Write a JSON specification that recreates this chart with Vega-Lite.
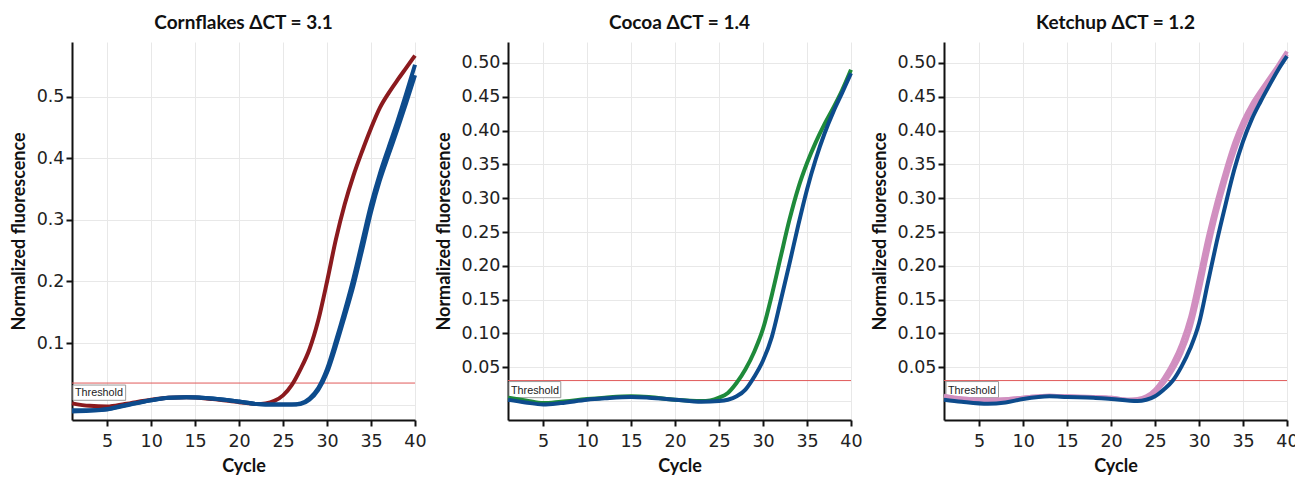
{
  "$schema": "https://vega.github.io/schema/vega-lite/v6.json",
  "background": "white",
  "padding": {"left": 10, "top": 14, "right": 5, "bottom": 5},
  "spacing": 8,
  "config": {
    "view": {"stroke": null},
    "font": "Lato",
    "title": {"font": "Lato", "fontSize": 19, "fontWeight": "bold", "color": "#111", "offset": 9, "anchor": "middle"},
    "axis": {
      "domainColor": "#111", "domainWidth": 2,
      "tickColor": "#111", "tickWidth": 2, "tickSize": 6,
      "gridColor": "#e8e8e8", "gridWidth": 1,
      "labelFont": "DejaVu Sans", "labelFontSize": 17.5, "labelColor": "#222",
      "titleFont": "Lato", "titleFontSize": 18, "titleFontWeight": "bold", "titleColor": "#111"
    }
  },
  "datasets": {
    "curves": [
      {"panel": "Cornflakes", "series": "threshold", "rep": "t", "cycle": 1, "value": 0.035},
      {"panel": "Cornflakes", "series": "threshold", "rep": "t", "cycle": 40, "value": 0.035},
      {"panel": "Cocoa", "series": "threshold", "rep": "t", "cycle": 1, "value": 0.0303},
      {"panel": "Cocoa", "series": "threshold", "rep": "t", "cycle": 40, "value": 0.0303},
      {"panel": "Ketchup", "series": "threshold", "rep": "t", "cycle": 1, "value": 0.0303},
      {"panel": "Ketchup", "series": "threshold", "rep": "t", "cycle": 40, "value": 0.0303},

      {"panel": "Cornflakes", "series": "sample", "rep": "a", "cycle": 1, "value": 0.002},
      {"panel": "Cornflakes", "series": "sample", "rep": "a", "cycle": 3, "value": -0.002},
      {"panel": "Cornflakes", "series": "sample", "rep": "a", "cycle": 5, "value": -0.003},
      {"panel": "Cornflakes", "series": "sample", "rep": "a", "cycle": 7, "value": 0.001},
      {"panel": "Cornflakes", "series": "sample", "rep": "a", "cycle": 10, "value": 0.008},
      {"panel": "Cornflakes", "series": "sample", "rep": "a", "cycle": 12, "value": 0.011},
      {"panel": "Cornflakes", "series": "sample", "rep": "a", "cycle": 14, "value": 0.012},
      {"panel": "Cornflakes", "series": "sample", "rep": "a", "cycle": 17, "value": 0.009},
      {"panel": "Cornflakes", "series": "sample", "rep": "a", "cycle": 20, "value": 0.004},
      {"panel": "Cornflakes", "series": "sample", "rep": "a", "cycle": 22, "value": 0.001},
      {"panel": "Cornflakes", "series": "sample", "rep": "a", "cycle": 23, "value": 0.002},
      {"panel": "Cornflakes", "series": "sample", "rep": "a", "cycle": 24, "value": 0.006},
      {"panel": "Cornflakes", "series": "sample", "rep": "a", "cycle": 25, "value": 0.015},
      {"panel": "Cornflakes", "series": "sample", "rep": "a", "cycle": 26, "value": 0.032},
      {"panel": "Cornflakes", "series": "sample", "rep": "a", "cycle": 27, "value": 0.058},
      {"panel": "Cornflakes", "series": "sample", "rep": "a", "cycle": 28, "value": 0.09},
      {"panel": "Cornflakes", "series": "sample", "rep": "a", "cycle": 29, "value": 0.137},
      {"panel": "Cornflakes", "series": "sample", "rep": "a", "cycle": 30, "value": 0.2},
      {"panel": "Cornflakes", "series": "sample", "rep": "a", "cycle": 31, "value": 0.268},
      {"panel": "Cornflakes", "series": "sample", "rep": "a", "cycle": 32, "value": 0.325},
      {"panel": "Cornflakes", "series": "sample", "rep": "a", "cycle": 33, "value": 0.372},
      {"panel": "Cornflakes", "series": "sample", "rep": "a", "cycle": 34, "value": 0.412},
      {"panel": "Cornflakes", "series": "sample", "rep": "a", "cycle": 35, "value": 0.449},
      {"panel": "Cornflakes", "series": "sample", "rep": "a", "cycle": 36, "value": 0.482},
      {"panel": "Cornflakes", "series": "sample", "rep": "a", "cycle": 37, "value": 0.506},
      {"panel": "Cornflakes", "series": "sample", "rep": "a", "cycle": 38, "value": 0.527},
      {"panel": "Cornflakes", "series": "sample", "rep": "a", "cycle": 39, "value": 0.547},
      {"panel": "Cornflakes", "series": "sample", "rep": "a", "cycle": 40, "value": 0.567},

      {"panel": "Cornflakes", "series": "reference", "rep": "a", "cycle": 1, "value": -0.011},
      {"panel": "Cornflakes", "series": "reference", "rep": "a", "cycle": 3, "value": -0.01},
      {"panel": "Cornflakes", "series": "reference", "rep": "a", "cycle": 5, "value": -0.008},
      {"panel": "Cornflakes", "series": "reference", "rep": "a", "cycle": 7, "value": -0.002},
      {"panel": "Cornflakes", "series": "reference", "rep": "a", "cycle": 10, "value": 0.007},
      {"panel": "Cornflakes", "series": "reference", "rep": "a", "cycle": 12, "value": 0.011},
      {"panel": "Cornflakes", "series": "reference", "rep": "a", "cycle": 14, "value": 0.012},
      {"panel": "Cornflakes", "series": "reference", "rep": "a", "cycle": 17, "value": 0.01},
      {"panel": "Cornflakes", "series": "reference", "rep": "a", "cycle": 20, "value": 0.005},
      {"panel": "Cornflakes", "series": "reference", "rep": "a", "cycle": 22, "value": 0.001},
      {"panel": "Cornflakes", "series": "reference", "rep": "a", "cycle": 24, "value": 0.0},
      {"panel": "Cornflakes", "series": "reference", "rep": "a", "cycle": 26, "value": 0.0},
      {"panel": "Cornflakes", "series": "reference", "rep": "a", "cycle": 27, "value": 0.002},
      {"panel": "Cornflakes", "series": "reference", "rep": "a", "cycle": 28, "value": 0.01},
      {"panel": "Cornflakes", "series": "reference", "rep": "a", "cycle": 29, "value": 0.027},
      {"panel": "Cornflakes", "series": "reference", "rep": "a", "cycle": 30, "value": 0.058},
      {"panel": "Cornflakes", "series": "reference", "rep": "a", "cycle": 31, "value": 0.103},
      {"panel": "Cornflakes", "series": "reference", "rep": "a", "cycle": 32, "value": 0.152},
      {"panel": "Cornflakes", "series": "reference", "rep": "a", "cycle": 33, "value": 0.205},
      {"panel": "Cornflakes", "series": "reference", "rep": "a", "cycle": 34, "value": 0.265},
      {"panel": "Cornflakes", "series": "reference", "rep": "a", "cycle": 35, "value": 0.325},
      {"panel": "Cornflakes", "series": "reference", "rep": "a", "cycle": 36, "value": 0.375},
      {"panel": "Cornflakes", "series": "reference", "rep": "a", "cycle": 37, "value": 0.418},
      {"panel": "Cornflakes", "series": "reference", "rep": "a", "cycle": 38, "value": 0.46},
      {"panel": "Cornflakes", "series": "reference", "rep": "a", "cycle": 39, "value": 0.505},
      {"panel": "Cornflakes", "series": "reference", "rep": "a", "cycle": 40, "value": 0.552},

      {"panel": "Cornflakes", "series": "reference", "rep": "b", "cycle": 1, "value": -0.009},
      {"panel": "Cornflakes", "series": "reference", "rep": "b", "cycle": 3, "value": -0.009},
      {"panel": "Cornflakes", "series": "reference", "rep": "b", "cycle": 5, "value": -0.007},
      {"panel": "Cornflakes", "series": "reference", "rep": "b", "cycle": 7, "value": -0.001},
      {"panel": "Cornflakes", "series": "reference", "rep": "b", "cycle": 10, "value": 0.007},
      {"panel": "Cornflakes", "series": "reference", "rep": "b", "cycle": 12, "value": 0.011},
      {"panel": "Cornflakes", "series": "reference", "rep": "b", "cycle": 14, "value": 0.012},
      {"panel": "Cornflakes", "series": "reference", "rep": "b", "cycle": 17, "value": 0.01},
      {"panel": "Cornflakes", "series": "reference", "rep": "b", "cycle": 20, "value": 0.005},
      {"panel": "Cornflakes", "series": "reference", "rep": "b", "cycle": 22, "value": 0.001},
      {"panel": "Cornflakes", "series": "reference", "rep": "b", "cycle": 24, "value": 0.0},
      {"panel": "Cornflakes", "series": "reference", "rep": "b", "cycle": 26, "value": 0.0},
      {"panel": "Cornflakes", "series": "reference", "rep": "b", "cycle": 27, "value": 0.001},
      {"panel": "Cornflakes", "series": "reference", "rep": "b", "cycle": 28, "value": 0.008},
      {"panel": "Cornflakes", "series": "reference", "rep": "b", "cycle": 29, "value": 0.024},
      {"panel": "Cornflakes", "series": "reference", "rep": "b", "cycle": 30, "value": 0.052},
      {"panel": "Cornflakes", "series": "reference", "rep": "b", "cycle": 31, "value": 0.095},
      {"panel": "Cornflakes", "series": "reference", "rep": "b", "cycle": 32, "value": 0.143},
      {"panel": "Cornflakes", "series": "reference", "rep": "b", "cycle": 33, "value": 0.193},
      {"panel": "Cornflakes", "series": "reference", "rep": "b", "cycle": 34, "value": 0.252},
      {"panel": "Cornflakes", "series": "reference", "rep": "b", "cycle": 35, "value": 0.313},
      {"panel": "Cornflakes", "series": "reference", "rep": "b", "cycle": 36, "value": 0.364},
      {"panel": "Cornflakes", "series": "reference", "rep": "b", "cycle": 37, "value": 0.406},
      {"panel": "Cornflakes", "series": "reference", "rep": "b", "cycle": 38, "value": 0.447},
      {"panel": "Cornflakes", "series": "reference", "rep": "b", "cycle": 39, "value": 0.49},
      {"panel": "Cornflakes", "series": "reference", "rep": "b", "cycle": 40, "value": 0.535},

      {"panel": "Cocoa", "series": "sample", "rep": "a", "cycle": 1, "value": 0.005},
      {"panel": "Cocoa", "series": "sample", "rep": "a", "cycle": 3, "value": 0.001},
      {"panel": "Cocoa", "series": "sample", "rep": "a", "cycle": 5, "value": -0.003},
      {"panel": "Cocoa", "series": "sample", "rep": "a", "cycle": 7, "value": -0.001},
      {"panel": "Cocoa", "series": "sample", "rep": "a", "cycle": 10, "value": 0.003},
      {"panel": "Cocoa", "series": "sample", "rep": "a", "cycle": 12, "value": 0.005},
      {"panel": "Cocoa", "series": "sample", "rep": "a", "cycle": 15, "value": 0.007},
      {"panel": "Cocoa", "series": "sample", "rep": "a", "cycle": 17, "value": 0.006},
      {"panel": "Cocoa", "series": "sample", "rep": "a", "cycle": 20, "value": 0.002},
      {"panel": "Cocoa", "series": "sample", "rep": "a", "cycle": 23, "value": 0.0},
      {"panel": "Cocoa", "series": "sample", "rep": "a", "cycle": 24, "value": 0.001},
      {"panel": "Cocoa", "series": "sample", "rep": "a", "cycle": 25, "value": 0.005},
      {"panel": "Cocoa", "series": "sample", "rep": "a", "cycle": 26, "value": 0.012},
      {"panel": "Cocoa", "series": "sample", "rep": "a", "cycle": 27, "value": 0.027},
      {"panel": "Cocoa", "series": "sample", "rep": "a", "cycle": 28, "value": 0.047},
      {"panel": "Cocoa", "series": "sample", "rep": "a", "cycle": 29, "value": 0.073},
      {"panel": "Cocoa", "series": "sample", "rep": "a", "cycle": 30, "value": 0.107},
      {"panel": "Cocoa", "series": "sample", "rep": "a", "cycle": 31, "value": 0.157},
      {"panel": "Cocoa", "series": "sample", "rep": "a", "cycle": 32, "value": 0.213},
      {"panel": "Cocoa", "series": "sample", "rep": "a", "cycle": 33, "value": 0.268},
      {"panel": "Cocoa", "series": "sample", "rep": "a", "cycle": 34, "value": 0.315},
      {"panel": "Cocoa", "series": "sample", "rep": "a", "cycle": 35, "value": 0.352},
      {"panel": "Cocoa", "series": "sample", "rep": "a", "cycle": 36, "value": 0.383},
      {"panel": "Cocoa", "series": "sample", "rep": "a", "cycle": 37, "value": 0.41},
      {"panel": "Cocoa", "series": "sample", "rep": "a", "cycle": 38, "value": 0.434},
      {"panel": "Cocoa", "series": "sample", "rep": "a", "cycle": 39, "value": 0.46},
      {"panel": "Cocoa", "series": "sample", "rep": "a", "cycle": 40, "value": 0.49},

      {"panel": "Cocoa", "series": "reference", "rep": "a", "cycle": 1, "value": 0.002},
      {"panel": "Cocoa", "series": "reference", "rep": "a", "cycle": 3, "value": -0.002},
      {"panel": "Cocoa", "series": "reference", "rep": "a", "cycle": 5, "value": -0.005},
      {"panel": "Cocoa", "series": "reference", "rep": "a", "cycle": 7, "value": -0.003},
      {"panel": "Cocoa", "series": "reference", "rep": "a", "cycle": 10, "value": 0.002},
      {"panel": "Cocoa", "series": "reference", "rep": "a", "cycle": 12, "value": 0.004},
      {"panel": "Cocoa", "series": "reference", "rep": "a", "cycle": 15, "value": 0.006},
      {"panel": "Cocoa", "series": "reference", "rep": "a", "cycle": 17, "value": 0.005},
      {"panel": "Cocoa", "series": "reference", "rep": "a", "cycle": 20, "value": 0.002},
      {"panel": "Cocoa", "series": "reference", "rep": "a", "cycle": 23, "value": -0.001},
      {"panel": "Cocoa", "series": "reference", "rep": "a", "cycle": 25, "value": 0.0},
      {"panel": "Cocoa", "series": "reference", "rep": "a", "cycle": 26, "value": 0.002},
      {"panel": "Cocoa", "series": "reference", "rep": "a", "cycle": 27, "value": 0.007},
      {"panel": "Cocoa", "series": "reference", "rep": "a", "cycle": 28, "value": 0.017},
      {"panel": "Cocoa", "series": "reference", "rep": "a", "cycle": 29, "value": 0.036},
      {"panel": "Cocoa", "series": "reference", "rep": "a", "cycle": 30, "value": 0.06},
      {"panel": "Cocoa", "series": "reference", "rep": "a", "cycle": 31, "value": 0.095},
      {"panel": "Cocoa", "series": "reference", "rep": "a", "cycle": 32, "value": 0.148},
      {"panel": "Cocoa", "series": "reference", "rep": "a", "cycle": 33, "value": 0.203},
      {"panel": "Cocoa", "series": "reference", "rep": "a", "cycle": 34, "value": 0.26},
      {"panel": "Cocoa", "series": "reference", "rep": "a", "cycle": 35, "value": 0.313},
      {"panel": "Cocoa", "series": "reference", "rep": "a", "cycle": 36, "value": 0.358},
      {"panel": "Cocoa", "series": "reference", "rep": "a", "cycle": 37, "value": 0.396},
      {"panel": "Cocoa", "series": "reference", "rep": "a", "cycle": 38, "value": 0.428},
      {"panel": "Cocoa", "series": "reference", "rep": "a", "cycle": 39, "value": 0.456},
      {"panel": "Cocoa", "series": "reference", "rep": "a", "cycle": 40, "value": 0.485},

      {"panel": "Ketchup", "series": "sample", "rep": "a", "cycle": 1, "value": 0.008},
      {"panel": "Ketchup", "series": "sample", "rep": "a", "cycle": 3, "value": 0.004},
      {"panel": "Ketchup", "series": "sample", "rep": "a", "cycle": 5, "value": 0.002},
      {"panel": "Ketchup", "series": "sample", "rep": "a", "cycle": 7, "value": 0.002},
      {"panel": "Ketchup", "series": "sample", "rep": "a", "cycle": 10, "value": 0.005},
      {"panel": "Ketchup", "series": "sample", "rep": "a", "cycle": 13, "value": 0.008},
      {"panel": "Ketchup", "series": "sample", "rep": "a", "cycle": 15, "value": 0.007},
      {"panel": "Ketchup", "series": "sample", "rep": "a", "cycle": 18, "value": 0.006},
      {"panel": "Ketchup", "series": "sample", "rep": "a", "cycle": 20, "value": 0.005},
      {"panel": "Ketchup", "series": "sample", "rep": "a", "cycle": 22, "value": 0.002},
      {"panel": "Ketchup", "series": "sample", "rep": "a", "cycle": 23, "value": 0.003},
      {"panel": "Ketchup", "series": "sample", "rep": "a", "cycle": 24, "value": 0.007},
      {"panel": "Ketchup", "series": "sample", "rep": "a", "cycle": 25, "value": 0.017},
      {"panel": "Ketchup", "series": "sample", "rep": "a", "cycle": 26, "value": 0.034},
      {"panel": "Ketchup", "series": "sample", "rep": "a", "cycle": 27, "value": 0.056},
      {"panel": "Ketchup", "series": "sample", "rep": "a", "cycle": 28, "value": 0.085},
      {"panel": "Ketchup", "series": "sample", "rep": "a", "cycle": 29, "value": 0.125},
      {"panel": "Ketchup", "series": "sample", "rep": "a", "cycle": 30, "value": 0.183},
      {"panel": "Ketchup", "series": "sample", "rep": "a", "cycle": 31, "value": 0.243},
      {"panel": "Ketchup", "series": "sample", "rep": "a", "cycle": 32, "value": 0.295},
      {"panel": "Ketchup", "series": "sample", "rep": "a", "cycle": 33, "value": 0.341},
      {"panel": "Ketchup", "series": "sample", "rep": "a", "cycle": 34, "value": 0.382},
      {"panel": "Ketchup", "series": "sample", "rep": "a", "cycle": 35, "value": 0.414},
      {"panel": "Ketchup", "series": "sample", "rep": "a", "cycle": 36, "value": 0.439},
      {"panel": "Ketchup", "series": "sample", "rep": "a", "cycle": 37, "value": 0.459},
      {"panel": "Ketchup", "series": "sample", "rep": "a", "cycle": 38, "value": 0.478},
      {"panel": "Ketchup", "series": "sample", "rep": "a", "cycle": 39, "value": 0.497},
      {"panel": "Ketchup", "series": "sample", "rep": "a", "cycle": 40, "value": 0.517},

      {"panel": "Ketchup", "series": "sample", "rep": "b", "cycle": 1, "value": 0.007},
      {"panel": "Ketchup", "series": "sample", "rep": "b", "cycle": 3, "value": 0.003},
      {"panel": "Ketchup", "series": "sample", "rep": "b", "cycle": 5, "value": 0.001},
      {"panel": "Ketchup", "series": "sample", "rep": "b", "cycle": 7, "value": 0.002},
      {"panel": "Ketchup", "series": "sample", "rep": "b", "cycle": 10, "value": 0.005},
      {"panel": "Ketchup", "series": "sample", "rep": "b", "cycle": 13, "value": 0.008},
      {"panel": "Ketchup", "series": "sample", "rep": "b", "cycle": 15, "value": 0.007},
      {"panel": "Ketchup", "series": "sample", "rep": "b", "cycle": 18, "value": 0.006},
      {"panel": "Ketchup", "series": "sample", "rep": "b", "cycle": 20, "value": 0.005},
      {"panel": "Ketchup", "series": "sample", "rep": "b", "cycle": 22, "value": 0.002},
      {"panel": "Ketchup", "series": "sample", "rep": "b", "cycle": 23, "value": 0.002},
      {"panel": "Ketchup", "series": "sample", "rep": "b", "cycle": 24, "value": 0.005},
      {"panel": "Ketchup", "series": "sample", "rep": "b", "cycle": 25, "value": 0.013},
      {"panel": "Ketchup", "series": "sample", "rep": "b", "cycle": 26, "value": 0.027},
      {"panel": "Ketchup", "series": "sample", "rep": "b", "cycle": 27, "value": 0.046},
      {"panel": "Ketchup", "series": "sample", "rep": "b", "cycle": 28, "value": 0.071},
      {"panel": "Ketchup", "series": "sample", "rep": "b", "cycle": 29, "value": 0.107},
      {"panel": "Ketchup", "series": "sample", "rep": "b", "cycle": 30, "value": 0.16},
      {"panel": "Ketchup", "series": "sample", "rep": "b", "cycle": 31, "value": 0.222},
      {"panel": "Ketchup", "series": "sample", "rep": "b", "cycle": 32, "value": 0.278},
      {"panel": "Ketchup", "series": "sample", "rep": "b", "cycle": 33, "value": 0.326},
      {"panel": "Ketchup", "series": "sample", "rep": "b", "cycle": 34, "value": 0.368},
      {"panel": "Ketchup", "series": "sample", "rep": "b", "cycle": 35, "value": 0.403},
      {"panel": "Ketchup", "series": "sample", "rep": "b", "cycle": 36, "value": 0.43},
      {"panel": "Ketchup", "series": "sample", "rep": "b", "cycle": 37, "value": 0.452},
      {"panel": "Ketchup", "series": "sample", "rep": "b", "cycle": 38, "value": 0.472},
      {"panel": "Ketchup", "series": "sample", "rep": "b", "cycle": 39, "value": 0.492},
      {"panel": "Ketchup", "series": "sample", "rep": "b", "cycle": 40, "value": 0.513},

      {"panel": "Ketchup", "series": "reference", "rep": "a", "cycle": 1, "value": 0.002},
      {"panel": "Ketchup", "series": "reference", "rep": "a", "cycle": 3, "value": -0.001},
      {"panel": "Ketchup", "series": "reference", "rep": "a", "cycle": 6, "value": -0.004},
      {"panel": "Ketchup", "series": "reference", "rep": "a", "cycle": 8, "value": -0.002},
      {"panel": "Ketchup", "series": "reference", "rep": "a", "cycle": 10, "value": 0.003},
      {"panel": "Ketchup", "series": "reference", "rep": "a", "cycle": 13, "value": 0.007},
      {"panel": "Ketchup", "series": "reference", "rep": "a", "cycle": 15, "value": 0.006},
      {"panel": "Ketchup", "series": "reference", "rep": "a", "cycle": 18, "value": 0.005},
      {"panel": "Ketchup", "series": "reference", "rep": "a", "cycle": 20, "value": 0.003},
      {"panel": "Ketchup", "series": "reference", "rep": "a", "cycle": 23, "value": 0.0},
      {"panel": "Ketchup", "series": "reference", "rep": "a", "cycle": 24, "value": 0.002},
      {"panel": "Ketchup", "series": "reference", "rep": "a", "cycle": 25, "value": 0.007},
      {"panel": "Ketchup", "series": "reference", "rep": "a", "cycle": 26, "value": 0.017},
      {"panel": "Ketchup", "series": "reference", "rep": "a", "cycle": 27, "value": 0.03},
      {"panel": "Ketchup", "series": "reference", "rep": "a", "cycle": 28, "value": 0.051},
      {"panel": "Ketchup", "series": "reference", "rep": "a", "cycle": 29, "value": 0.078},
      {"panel": "Ketchup", "series": "reference", "rep": "a", "cycle": 30, "value": 0.115},
      {"panel": "Ketchup", "series": "reference", "rep": "a", "cycle": 31, "value": 0.175},
      {"panel": "Ketchup", "series": "reference", "rep": "a", "cycle": 32, "value": 0.235},
      {"panel": "Ketchup", "series": "reference", "rep": "a", "cycle": 33, "value": 0.29},
      {"panel": "Ketchup", "series": "reference", "rep": "a", "cycle": 34, "value": 0.342},
      {"panel": "Ketchup", "series": "reference", "rep": "a", "cycle": 35, "value": 0.384},
      {"panel": "Ketchup", "series": "reference", "rep": "a", "cycle": 36, "value": 0.417},
      {"panel": "Ketchup", "series": "reference", "rep": "a", "cycle": 37, "value": 0.443},
      {"panel": "Ketchup", "series": "reference", "rep": "a", "cycle": 38, "value": 0.467},
      {"panel": "Ketchup", "series": "reference", "rep": "a", "cycle": 39, "value": 0.49},
      {"panel": "Ketchup", "series": "reference", "rep": "a", "cycle": 40, "value": 0.51}
    ]
  },
  "hconcat": [
    {
      "title": "Cornflakes ΔCT = 3.1",
      "width": 343, "height": 378,
      "data": {"name": "curves"},
      "transform": [{"filter": "datum.panel == 'Cornflakes'"}],
      "encoding": {
        "x": {"field": "cycle", "type": "quantitative", "title": "Cycle",
              "scale": {"domain": [1, 40], "nice": false, "zero": false},
              "axis": {"values": [5, 10, 15, 20, 25, 30, 35, 40], "labelFlush": false, "labelPadding": 6, "titlePadding": 8}},
        "y": {"field": "value", "type": "quantitative", "title": "Normalized fluorescence",
              "scale": {"domain": [-0.025, 0.589], "nice": false, "zero": false},
              "axis": {"values": [0, 0.1, 0.2, 0.3, 0.4, 0.5], "format": ".1f",
                       "labelExpr": "datum.value == 0 ? '' : datum.label",
                       "tickOpacity": {"condition": {"test": "datum.value == 0", "value": 0}, "value": 1},
                       "titlePadding": 8}}
      },
      "layer": [
        {"transform": [{"filter": "datum.series == 'threshold'"}],
         "mark": {"type": "line", "color": "#e05a5a", "strokeWidth": 1},
         "encoding": {}},
        {"transform": [{"filter": "datum.series == 'threshold' && datum.cycle == 1"}],
         "mark": {"type": "rect", "fill": "white", "stroke": "#9a9a9a", "strokeWidth": 1, "xOffset": 1, "yOffset": 2},
         "encoding": {"x2": {"datum": 7.1}, "y2": {"datum": 0.007}}},
        {"transform": [{"filter": "datum.series == 'threshold' && datum.cycle == 1"}],
         "mark": {"type": "text", "text": "Threshold", "font": "Liberation Sans", "fontSize": 10.8, "align": "left", "baseline": "top", "dx": 3, "dy": 4, "color": "#222"},
         "encoding": {}},
        {"transform": [{"filter": "datum.series == 'sample'"}],
         "mark": {"type": "line", "color": "#8b1a1e", "strokeWidth": 4, "interpolate": "monotone"},
         "encoding": {"detail": {"field": "rep"}}},
        {"transform": [{"filter": "datum.series == 'reference'"}],
         "mark": {"type": "line", "color": "#0d4b8c", "strokeWidth": 4, "interpolate": "monotone"},
         "encoding": {"detail": {"field": "rep"}}}
      ]
    },
    {
      "title": "Cocoa ΔCT = 1.4",
      "width": 343, "height": 378,
      "data": {"name": "curves"},
      "transform": [{"filter": "datum.panel == 'Cocoa'"}],
      "encoding": {
        "x": {"field": "cycle", "type": "quantitative", "title": "Cycle",
              "scale": {"domain": [1, 40], "nice": false, "zero": false},
              "axis": {"values": [5, 10, 15, 20, 25, 30, 35, 40], "labelFlush": false, "labelPadding": 6, "titlePadding": 8}},
        "y": {"field": "value", "type": "quantitative", "title": "Normalized fluorescence",
              "scale": {"domain": [-0.028, 0.531], "nice": false, "zero": false},
              "axis": {"values": [0, 0.05, 0.1, 0.15, 0.2, 0.25, 0.3, 0.35, 0.4, 0.45, 0.5], "format": ".2f",
                       "labelExpr": "datum.value == 0 ? '' : datum.label",
                       "tickOpacity": {"condition": {"test": "datum.value == 0", "value": 0}, "value": 1},
                       "titlePadding": 8}}
      },
      "layer": [
        {"transform": [{"filter": "datum.series == 'threshold'"}],
         "mark": {"type": "line", "color": "#e05a5a", "strokeWidth": 1},
         "encoding": {}},
        {"transform": [{"filter": "datum.series == 'threshold' && datum.cycle == 1"}],
         "mark": {"type": "rect", "fill": "white", "stroke": "#9a9a9a", "strokeWidth": 1, "xOffset": 1, "yOffset": 1},
         "encoding": {"x2": {"datum": 7.0}, "y2": {"datum": 0.005}}},
        {"transform": [{"filter": "datum.series == 'threshold' && datum.cycle == 1"}],
         "mark": {"type": "text", "text": "Threshold", "font": "Liberation Sans", "fontSize": 10.8, "align": "left", "baseline": "top", "dx": 3, "dy": 4, "color": "#222"},
         "encoding": {}},
        {"transform": [{"filter": "datum.series == 'sample'"}],
         "mark": {"type": "line", "color": "#1e8a3a", "strokeWidth": 4, "interpolate": "monotone"},
         "encoding": {"detail": {"field": "rep"}}},
        {"transform": [{"filter": "datum.series == 'reference'"}],
         "mark": {"type": "line", "color": "#0d4b8c", "strokeWidth": 4, "interpolate": "monotone"},
         "encoding": {"detail": {"field": "rep"}}}
      ]
    },
    {
      "title": "Ketchup ΔCT = 1.2",
      "width": 343, "height": 378,
      "data": {"name": "curves"},
      "transform": [{"filter": "datum.panel == 'Ketchup'"}],
      "encoding": {
        "x": {"field": "cycle", "type": "quantitative", "title": "Cycle",
              "scale": {"domain": [1, 40], "nice": false, "zero": false},
              "axis": {"values": [5, 10, 15, 20, 25, 30, 35, 40], "labelFlush": false, "labelPadding": 6, "titlePadding": 8}},
        "y": {"field": "value", "type": "quantitative", "title": "Normalized fluorescence",
              "scale": {"domain": [-0.028, 0.531], "nice": false, "zero": false},
              "axis": {"values": [0, 0.05, 0.1, 0.15, 0.2, 0.25, 0.3, 0.35, 0.4, 0.45, 0.5], "format": ".2f",
                       "labelExpr": "datum.value == 0 ? '' : datum.label",
                       "tickOpacity": {"condition": {"test": "datum.value == 0", "value": 0}, "value": 1},
                       "titlePadding": 8}}
      },
      "layer": [
        {"transform": [{"filter": "datum.series == 'threshold'"}],
         "mark": {"type": "line", "color": "#e05a5a", "strokeWidth": 1},
         "encoding": {}},
        {"transform": [{"filter": "datum.series == 'threshold' && datum.cycle == 1"}],
         "mark": {"type": "rect", "fill": "white", "stroke": "#9a9a9a", "strokeWidth": 1, "xOffset": 2, "yOffset": 1},
         "encoding": {"x2": {"datum": 7.2}, "y2": {"datum": 0.005}}},
        {"transform": [{"filter": "datum.series == 'threshold' && datum.cycle == 1"}],
         "mark": {"type": "text", "text": "Threshold", "font": "Liberation Sans", "fontSize": 10.8, "align": "left", "baseline": "top", "dx": 4, "dy": 4, "color": "#222"},
         "encoding": {}},
        {"transform": [{"filter": "datum.series == 'sample'"}],
         "mark": {"type": "line", "color": "#d18fc0", "strokeWidth": 4, "interpolate": "monotone"},
         "encoding": {"detail": {"field": "rep"}}},
        {"transform": [{"filter": "datum.series == 'reference'"}],
         "mark": {"type": "line", "color": "#0d4b8c", "strokeWidth": 4, "interpolate": "monotone"},
         "encoding": {"detail": {"field": "rep"}}}
      ]
    }
  ]
}
